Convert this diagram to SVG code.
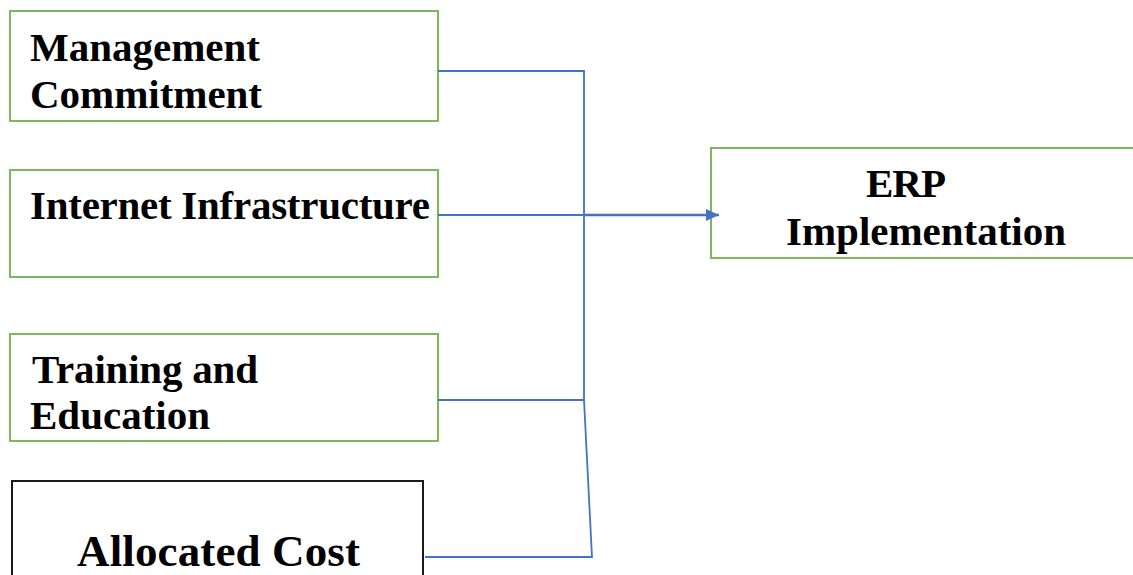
<svg xmlns="http://www.w3.org/2000/svg" width="1133" height="575" viewBox="0 0 1133 575">
<style>
.box{fill:#fff;stroke:#7DB95C;stroke-width:2}
.blk{fill:#fff;stroke:#1a1a1a;stroke-width:2}
.t{font-family:"Liberation Serif","Times New Roman",serif;font-weight:bold;font-size:41px;fill:#000}
.c{fill:none;stroke:#4472C4;stroke-width:1.8}
</style>
<defs>
<marker id="ah" markerWidth="13" markerHeight="12" refX="13" refY="6" orient="auto" markerUnits="userSpaceOnUse" viewBox="0 0 13 12">
<path d="M0,0 L13,6 L0,12 z" fill="#4472C4"/>
</marker>
</defs>
<rect width="1133" height="575" fill="#fff"/>
<g id="n1"><rect class="box" x="10" y="11" width="428" height="110"/>
<text class="t" x="30" y="61" textLength="230">Management</text><text class="t" x="30" y="108" textLength="232">Commitment</text></g>
<g id="n2"><rect class="box" x="10" y="170" width="428" height="107"/>
<text class="t" x="30" y="219" textLength="400">Internet Infrastructure</text></g>
<g id="n3"><rect class="box" x="10" y="334" width="428" height="107"/>
<text class="t" x="32" y="383" textLength="226">Training and</text><text class="t" x="30" y="429" textLength="180">Education</text></g>
<g id="n4"><rect class="blk" x="12" y="481" width="411" height="110"/>
<text class="t" x="77" y="566" style="font-size:45px" textLength="283">Allocated Cost</text></g>
<g id="n5"><rect class="box" x="711" y="148" width="430" height="110"/>
<text class="t" x="866" y="197" textLength="80">ERP</text><text class="t" x="786" y="245" textLength="280">Implementation</text></g>
<g id="connectors">
<polyline class="c" points="438,71 584,71 584,400"/>
<line class="c" x1="438" y1="215" x2="584" y2="215"/>
<polyline class="c" points="438,400 584,400 592,557 425,557"/>
<line x1="584" y1="215" x2="719" y2="215" stroke="#4472C4" stroke-width="2.6" marker-end="url(#ah)"/>
</g>
</svg>
